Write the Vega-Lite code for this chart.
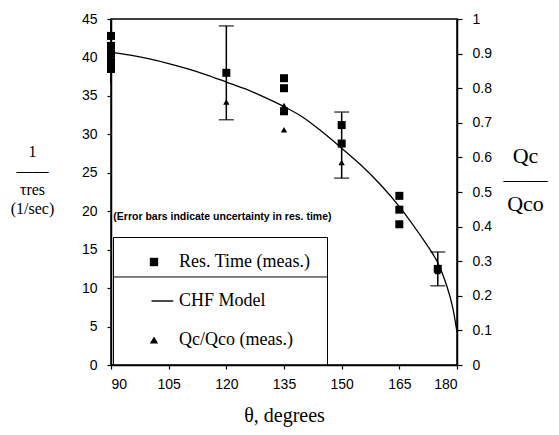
{
  "$schema": "https://vega.github.io/schema/vega-lite/v6.json",
  "width": 346,
  "height": 346,
  "autosize": {"type": "none"},
  "padding": {"left": 111, "top": 19, "right": 102, "bottom": 70},
  "background": "white",
  "config": {
    "view": {"stroke": "black", "strokeWidth": 1.5},
    "axis": {
      "domainColor": "black", "domainWidth": 1.5, "tickColor": "black", "tickWidth": 1.2,
      "labelColor": "black", "titleColor": "black", "grid": false, "labelOverlap": false,
      "labelFont": "Liberation Sans", "labelFontSize": 14, "tickSize": 4
    },
    "axisLeft": {"tickCount": 10, "labelPadding": 10}
  },
  "datasets": {
    "model": [
      {"x": 90, "v": 40.7}, {"x": 95, "v": 40.3}, {"x": 100, "v": 39.8}, {"x": 105, "v": 39.2},
      {"x": 110, "v": 38.5}, {"x": 115, "v": 37.7}, {"x": 120, "v": 36.8}, {"x": 125, "v": 35.9},
      {"x": 130, "v": 34.8}, {"x": 135, "v": 33.6}, {"x": 140, "v": 32.2}, {"x": 145, "v": 30.3},
      {"x": 150, "v": 28.2}, {"x": 155, "v": 26.0}, {"x": 160, "v": 23.5}, {"x": 165, "v": 20.6},
      {"x": 170, "v": 17.2}, {"x": 173, "v": 15.0}, {"x": 175, "v": 13.3}, {"x": 177, "v": 10.8},
      {"x": 179, "v": 7.2}, {"x": 180, "v": 4.3}
    ],
    "errs": [
      {"x": 90, "lo": 36.5, "hi": 45},
      {"x": 120, "lo": 31.9, "hi": 44.1},
      {"x": 150, "lo": 24.3, "hi": 32.9},
      {"x": 175, "lo": 10.3, "hi": 14.7}
    ],
    "caps": [
      {"x": 120, "v": 31.9}, {"x": 120, "v": 44.1},
      {"x": 150, "v": 24.3}, {"x": 150, "v": 32.9},
      {"x": 175, "v": 10.3}, {"x": 175, "v": 14.7}
    ],
    "res": [
      {"x": 90, "v": 38.5, "series": "Res. Time (meas.)"},
      {"x": 90, "v": 39.5, "series": "Res. Time (meas.)"},
      {"x": 90, "v": 40.5, "series": "Res. Time (meas.)"},
      {"x": 90, "v": 41.5, "series": "Res. Time (meas.)"},
      {"x": 90, "v": 42.8, "series": "Res. Time (meas.)"},
      {"x": 120, "v": 38.0, "series": "Res. Time (meas.)"},
      {"x": 135, "v": 37.3, "series": "Res. Time (meas.)"},
      {"x": 135, "v": 36.0, "series": "Res. Time (meas.)"},
      {"x": 135, "v": 33.0, "series": "Res. Time (meas.)"},
      {"x": 150, "v": 31.2, "series": "Res. Time (meas.)"},
      {"x": 150, "v": 28.8, "series": "Res. Time (meas.)"},
      {"x": 165, "v": 22.0, "series": "Res. Time (meas.)"},
      {"x": 165, "v": 20.2, "series": "Res. Time (meas.)"},
      {"x": 165, "v": 18.3, "series": "Res. Time (meas.)"},
      {"x": 175, "v": 12.5, "series": "Res. Time (meas.)"}
    ],
    "qc": [
      {"x": 90, "q": 0.9, "series": "Qc/Qco (meas.)"},
      {"x": 120, "q": 0.76, "series": "Qc/Qco (meas.)"},
      {"x": 135, "q": 0.75, "series": "Qc/Qco (meas.)"},
      {"x": 135, "q": 0.68, "series": "Qc/Qco (meas.)"},
      {"x": 150, "q": 0.585, "series": "Qc/Qco (meas.)"},
      {"x": 165, "q": 0.45, "series": "Qc/Qco (meas.)"},
      {"x": 175, "q": 0.27, "series": "Qc/Qco (meas.)"}
    ]
  },
  "layer": [
    {
      "layer": [
        {
          "data": {"name": "model"},
          "mark": {"type": "line", "color": "black", "strokeWidth": 1.3, "interpolate": "monotone"},
          "encoding": {
            "x": {
              "field": "x", "type": "quantitative",
              "scale": {"domain": [90, 180], "nice": false, "zero": false},
              "axis": {
                "values": [90, 105, 120, 135, 150, 165, 180],
                "title": "θ, degrees", "titleFont": "Liberation Serif", "titleFontSize": 20,
                "titleFontWeight": "normal", "titlePadding": 14, "labelPadding": 8, "tickSize": 4
              }
            },
            "y": {
              "field": "v", "type": "quantitative",
              "scale": {"domain": [0, 45], "nice": false},
              "axis": {
                "values": [0, 5, 10, 15, 20, 25, 30, 35, 40, 45],
                "labelPadding": 10, "tickSize": 4, "labelOverlap": false,
                "title": ["1", "——", "τres", "(1/sec)"],
                "titleAngle": 0, "titleAlign": "center", "titleBaseline": "top",
                "titleFont": "Liberation Serif", "titleFontSize": 16, "titleFontWeight": "normal",
                "titleLineHeight": 19, "titleX": -79, "titleY": 124
              }
            }
          }
        },
        {
          "data": {"name": "errs"},
          "mark": {"type": "rule", "color": "black", "strokeWidth": 1.5},
          "encoding": {
            "x": {"field": "x", "type": "quantitative", "scale": {"domain": [90, 180], "nice": false, "zero": false}},
            "y": {"field": "lo", "type": "quantitative", "scale": {"domain": [0, 45], "nice": false}, "axis": {"values": [0, 5, 10, 15, 20, 25, 30, 35, 40, 45]}},
            "y2": {"field": "hi"}
          }
        },
        {
          "data": {"name": "caps"},
          "mark": {"type": "tick", "orient": "horizontal", "color": "black", "size": 15, "thickness": 1.5},
          "encoding": {
            "x": {"field": "x", "type": "quantitative", "scale": {"domain": [90, 180], "nice": false, "zero": false}},
            "y": {"field": "v", "type": "quantitative", "scale": {"domain": [0, 45], "nice": false}, "axis": {"values": [0, 5, 10, 15, 20, 25, 30, 35, 40, 45]}}
          }
        },
        {
          "data": {"name": "res"},
          "mark": {"type": "point", "filled": true, "color": "black", "opacity": 1, "size": 64},
          "encoding": {
            "x": {"field": "x", "type": "quantitative", "scale": {"domain": [90, 180], "nice": false, "zero": false}},
            "y": {"field": "v", "type": "quantitative", "scale": {"domain": [0, 45], "nice": false}, "axis": {"values": [0, 5, 10, 15, 20, 25, 30, 35, 40, 45]}},
            "shape": {
              "field": "series", "type": "nominal",
              "scale": {"domain": ["Res. Time (meas.)", "CHF Model", "Qc/Qco (meas.)"], "range": ["square", "M-0.6,-0.17H4.6V0.17H-0.6Z", "triangle-up"]},
              "legend": {
                "title": null, "orient": "none", "legendX": 2, "legendY": 218,
                "strokeColor": "black", "padding": 16, "rowPadding": 21,
                "symbolOffset": 16, "labelOffset": 16, "symbolSize": 70,
                "symbolFillColor": "black", "symbolStrokeColor": "black", "symbolStrokeWidth": 0,
                "labelFont": "Liberation Serif", "labelFontSize": 18, "labelColor": "black"
              }
            }
          }
        },
        {
          "data": {"values": [{}]},
          "mark": {"type": "rule", "color": "black", "strokeWidth": 1},
          "encoding": {
            "x": {"datum": 90.5, "type": "quantitative", "scale": {"domain": [90, 180], "nice": false, "zero": false}},
            "x2": {"datum": 146.2},
            "y": {"datum": 11.45, "type": "quantitative", "scale": {"domain": [0, 45], "nice": false}, "axis": {"values": [0, 5, 10, 15, 20, 25, 30, 35, 40, 45]}}
          }
        },
        {
          "data": {"values": [{}]},
          "mark": {"type": "text", "align": "left", "baseline": "middle", "font": "Liberation Sans Narrow, Liberation Sans", "fontSize": 10.5, "fontWeight": "bold", "color": "black"},
          "encoding": {
            "x": {"datum": 90.6, "type": "quantitative", "scale": {"domain": [90, 180], "nice": false, "zero": false}},
            "y": {"datum": 19.3, "type": "quantitative", "scale": {"domain": [0, 45], "nice": false}, "axis": {"values": [0, 5, 10, 15, 20, 25, 30, 35, 40, 45]}},
            "text": {"value": "(Error bars indicate uncertainty in res. time)"}
          }
        }
      ]
    },
    {
      "data": {"name": "qc"},
      "mark": {"type": "point", "filled": true, "color": "black", "opacity": 1, "size": 40},
      "encoding": {
        "x": {"field": "x", "type": "quantitative", "scale": {"domain": [90, 180], "nice": false, "zero": false}},
        "y": {
          "field": "q", "type": "quantitative",
          "scale": {"domain": [0, 1], "nice": false},
          "axis": {
            "orient": "right",
            "values": [0, 0.1, 0.2, 0.3, 0.4, 0.5, 0.6, 0.7, 0.8, 0.9, 1],
            "labelExpr": "datum.value == 1 ? '1' : datum.value == 0 ? '0' : format(datum.value, '.1f')",
            "labelPadding": 10, "tickSize": 5,
            "title": ["Qc", "——", "Qco"],
            "titleAngle": 0, "titleAlign": "center", "titleBaseline": "top",
            "titleFont": "Liberation Serif", "titleFontSize": 22, "titleFontWeight": "normal",
            "titleLineHeight": 24, "titleX": 68, "titleY": 126
          }
        },
        "shape": {"field": "series", "type": "nominal"}
      }
    }
  ],
  "resolve": {"scale": {"y": "independent"}}
}
